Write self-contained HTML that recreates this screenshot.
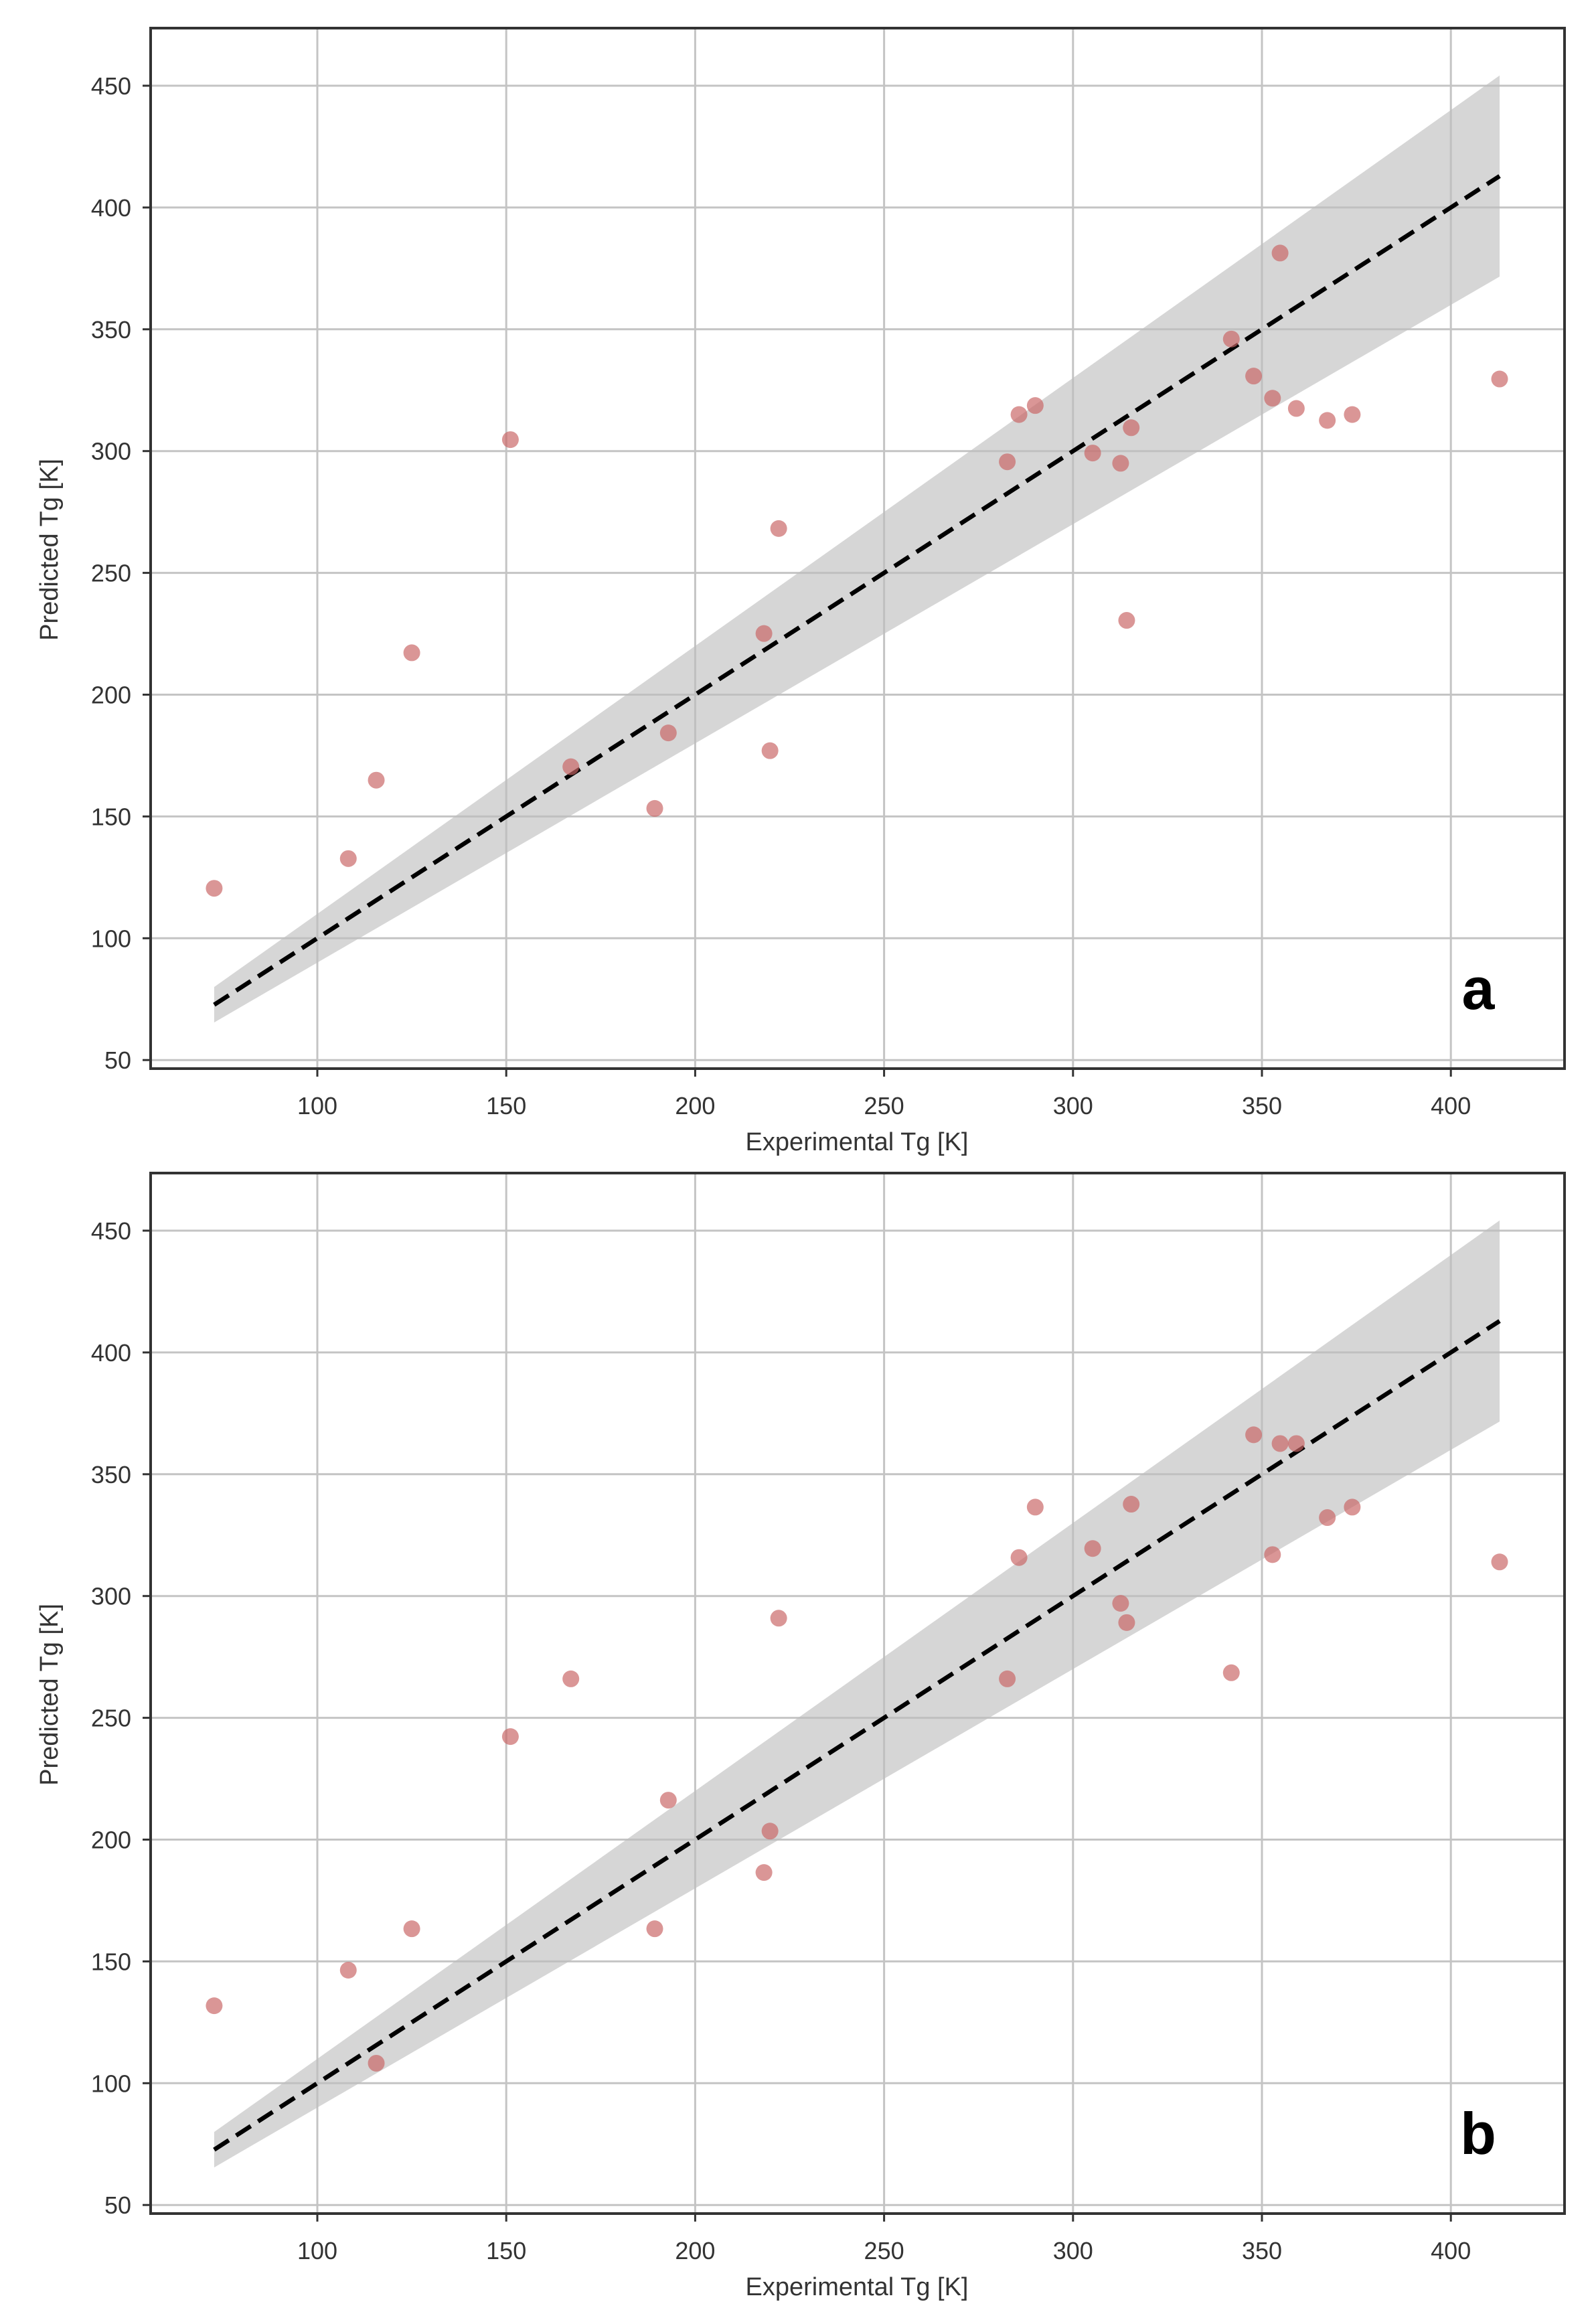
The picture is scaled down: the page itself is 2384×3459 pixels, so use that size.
<!DOCTYPE html>
<html><head><meta charset="utf-8"><style>
html,body{margin:0;padding:0;background:#fff;}
svg{display:block;font-family:"Liberation Sans","DejaVu Sans",sans-serif;}
</style></head><body>
<svg id="chart" width="2384" height="3459" viewBox="0 0 2384 3459" xmlns="http://www.w3.org/2000/svg"></svg>
<script>
const experimental = [72.7,108.2,115.6,125,151.1,167.1,189.3,192.9,218.2,219.8,222.1,282.6,285.7,290,305.2,312.6,314.2,315.4,341.9,347.8,352.8,354.8,359.1,367.3,373.9,412.9];
const predictedA = [120.5,132.7,164.9,217.2,304.7,170.4,153.3,184.3,225.1,177,268.2,295.6,315,318.7,299.2,295,230.5,309.6,346,330.8,321.7,381.3,317.5,312.6,315,329.6];
const predictedB = [131.8,146.4,108.2,163.4,242.3,266,163.4,216.2,186.5,203.5,290.9,266,315.8,336.5,319.5,297,289.1,337.7,268.5,366.2,317,362.6,362.6,332.2,336.5,314];
const xTicks = [100,150,200,250,300,350,400];
const yTicks = [50,100,150,200,250,300,350,400,450];
const bandRange = [72.7,412.9];
const bandFrac = [0.9,1.1];

const NS="http://www.w3.org/2000/svg";
const svg=document.getElementById('chart');
function mk(tag,attrs,parent){const e=document.createElementNS(NS,tag);for(const k in attrs)e.setAttribute(k,attrs[k]);(parent||svg).appendChild(e);return e;}

function panel(preds,offsetY,letter,name){
  const g=mk('g',{});
  
  
  const L=225,R=2337,T=42+offsetY,B=1596+offsetY;
  const sx=v=>474+(v-100)*5.644;
  const sy=v=>(128+offsetY)+(450-v)*3.638;
  xTicks.forEach(t=>{const l=mk('line',{x1:sx(t),x2:sx(t),y1:T,y2:B,stroke:'#c4c4c4','stroke-width':3},g);
    });
  yTicks.forEach(t=>{const l=mk('line',{x1:L,x2:R,y1:sy(t),y2:sy(t),stroke:'#c4c4c4','stroke-width':3},g);
    });
  const x0=bandRange[0],x1=bandRange[1];
  const pts=[[x0,x0*bandFrac[1]],[x1,x1*bandFrac[1]],[x1,x1*bandFrac[0]],[x0,x0*bandFrac[0]]].map(p=>sx(p[0])+','+sy(p[1])).join(' ');
  const band=mk('polygon',{points:pts,fill:'#bdbdbd','fill-opacity':0.62},g);
  
  const line=mk('line',{x1:sx(x0),y1:sy(x0),x2:sx(x1),y2:sy(x1),stroke:'#000','stroke-width':6.5,'stroke-dasharray':'26,13'},g);
  
  experimental.forEach((xv,i)=>{const c=mk('circle',{cx:sx(xv),cy:sy(preds[i]),r:12.5,fill:'#c86464','fill-opacity':0.68},g);
    });
  const f=mk('rect',{x:L,y:T,width:R-L,height:B-T,fill:'none',stroke:'#333','stroke-width':4},g);
  
  xTicks.forEach(t=>{mk('line',{x1:sx(t),x2:sx(t),y1:B,y2:B+12,stroke:'#333','stroke-width':3},g);
    const tx=mk('text',{x:sx(t),y:1664+offsetY,'text-anchor':'middle','font-size':36,fill:'#333'},g);tx.textContent=t;
    });
  yTicks.forEach(t=>{mk('line',{x1:L-12,x2:L,y1:sy(t),y2:sy(t),stroke:'#333','stroke-width':3},g);
    const tx=mk('text',{x:196,y:sy(t)+13,'text-anchor':'end','font-size':36,fill:'#333'},g);tx.textContent=t;
    });
  const xl=mk('text',{x:1280,y:1718+offsetY,'text-anchor':'middle','font-size':38,fill:'#333'},g);xl.textContent='Experimental Tg [K]';
  
  const yc=821+offsetY;
  const yl=mk('text',{x:0,y:0,transform:'translate(86,'+yc+') rotate(-90)','text-anchor':'middle','font-size':38,fill:'#333'},g);yl.textContent='Predicted Tg [K]';
  
  const lt=mk('text',{x:2208,y:1507+offsetY,'text-anchor':'middle','font-size':88,'font-weight':'bold',fill:'#000'},g);lt.textContent=letter;
  
}
panel(predictedA,0,'a','panel-a');
panel(predictedB,1710,'b','panel-b');
</script>
</body></html>
